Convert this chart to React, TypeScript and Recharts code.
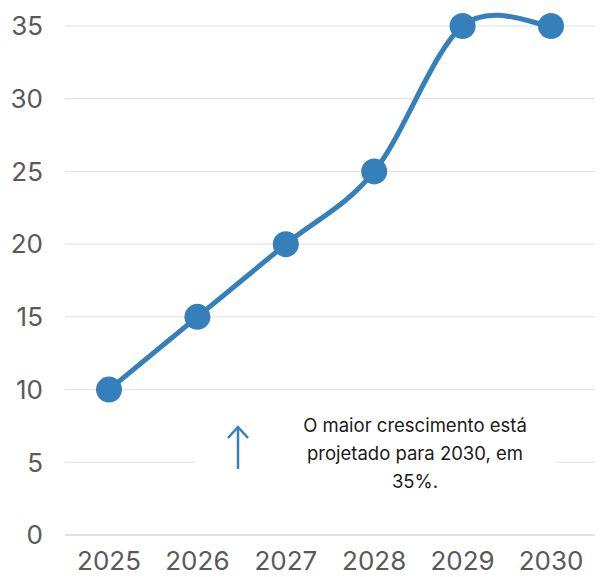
import React from "react";
import { LineChart, Line, XAxis, YAxis, CartesianGrid } from "recharts";

const years = ["2025", "2026", "2027", "2028", "2029", "2030"];
const growth = [10, 15, 20, 25, 35, 35];
const yTicks = [0, 5, 10, 15, 20, 25, 30, 35];

const data = years.map((year, i) => ({ year, value: growth[i] }));

const BLUE = "#3580BA";
const FONT = "Inter, 'Noto Sans', sans-serif";

// Catmull-Rom style smoothing, close to the spreadsheet "smoothed line"
function smoothCurve(context: any) {
  let pts: [number, number][] = [];
  return {
    areaStart() {},
    areaEnd() {},
    lineStart() {
      pts = [];
    },
    point(x: number, y: number) {
      pts.push([+x, +y]);
    },
    lineEnd() {
      if (!pts.length) return;
      context.moveTo(pts[0][0], pts[0][1]);
      for (let i = 0; i < pts.length - 1; i++) {
        const p0 = pts[i - 1] || pts[i];
        const p1 = pts[i];
        const p2 = pts[i + 1];
        const p3 = pts[i + 2] || p2;
        context.bezierCurveTo(
          p1[0] + (p2[0] - p0[0]) / 6,
          p1[1] + (p2[1] - p0[1]) / 6,
          p2[0] - (p3[0] - p1[0]) / 6,
          p2[1] - (p3[1] - p1[1]) / 6,
          p2[0],
          p2[1]
        );
      }
    },
  };
}

export default function App() {
  return (
    <div style={{ position: "absolute", left: 0, top: 0, width: 601, height: 577, background: "#fff" }}>
      <LineChart width={601} height={577} data={data} margin={{ top: 26, right: 6, bottom: 0, left: 0 }}>
        <CartesianGrid vertical={false} stroke="#e0e0e0" strokeWidth={1} />
        <XAxis
          dataKey="year"
          padding={{ left: 44, right: 44 }}
          axisLine={{ stroke: "#d6d6d6" }}
          tickLine={false}
          tickSize={0}
          tickMargin={17}
          height={42}
          tick={{ fill: "#595959", fontSize: 26, fontFamily: FONT }}
        />
        <YAxis
          domain={[0, 35]}
          ticks={yTicks}
          axisLine={false}
          tickLine={false}
          tickSize={0}
          tickMargin={22}
          width={65}
          tick={{ fill: "#595959", fontSize: 26, fontFamily: FONT }}
        />
        <Line
          type={smoothCurve as any}
          dataKey="value"
          stroke={BLUE}
          strokeWidth={5}
          dot={{ r: 13, fill: BLUE, stroke: BLUE, strokeWidth: 0 }}
          activeDot={false}
          isAnimationActive={false}
        />
      </LineChart>
      <div
        style={{
          position: "absolute",
          left: 195,
          top: 408,
          width: 360,
          height: 90,
          background: "#fff",
        }}
      >
        <svg width={30} height={50} style={{ position: "absolute", left: 28, top: 16 }}>
          <line x1={15} y1={4} x2={15} y2={45} stroke={BLUE} strokeWidth={2.5} />
          <polyline points="5,14 15,3 25,14" fill="none" stroke={BLUE} strokeWidth={2.5} />
        </svg>
        <div
          style={{
            position: "absolute",
            left: 92,
            top: 3,
            width: 256,
            textAlign: "center",
            fontFamily: FONT,
            fontSize: 18.5,
            lineHeight: "28px",
            color: "#1a1a1a",
          }}
        >
          O maior crescimento está projetado para 2030, em 35%.
        </div>
      </div>
    </div>
  );
}
